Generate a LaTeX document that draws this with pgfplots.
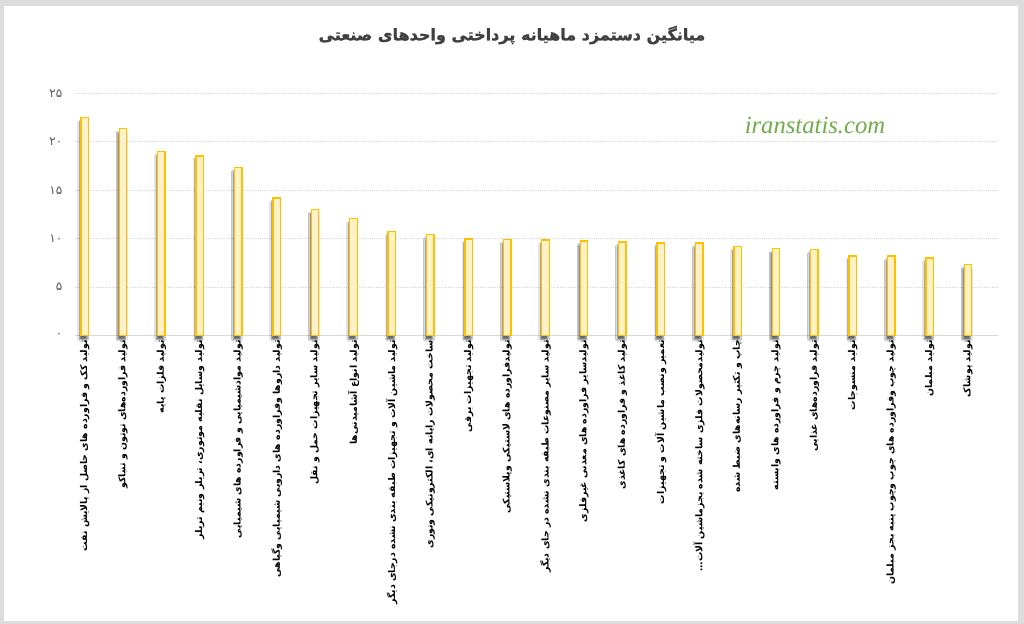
\documentclass[border=0pt]{standalone}
\usepackage{fontspec}
\usepackage{pgfplots}
\pgfplotsset{compat=1.18}
\usetikzlibrary{shadows.blur}
\setmainfont{DejaVu Sans}
\newfontfamily\arabicfont[Script=Arabic]{DejaVu Sans}
\newfontfamily\titlefont[Script=Arabic, FakeBold=1.5]{DejaVu Sans Bold}
\newfontfamily\wmfont{Liberation Serif}
\TeXXeTstate=1
\definecolor{framegray}{HTML}{DCDCDC}
\definecolor{gridgray}{HTML}{D9D9D9}
\definecolor{barline}{HTML}{FFC000}
\definecolor{barfill}{HTML}{FFF0C6}
\definecolor{titlegray}{HTML}{404040}
\definecolor{tickgray}{HTML}{595959}
\definecolor{wmgreen}{HTML}{70AD47}

\begin{document}
\begin{tikzpicture}
% page = 1024 x 624 px, 1px = 0.75pt
\path[use as bounding box, fill=framegray] (0,0) rectangle (768pt,468pt);
\fill[white] (3pt,2.25pt) rectangle (763.5pt,463.5pt);

\node[font=\titlefont\fontsize{12}{14}\selectfont, text=titlegray]
  at (384pt,441.75pt) {\beginR میانگین دستمزد ماهیانه پرداختی واحدهای صنعتی\endR};

\begin{axis}[
  at={(56.25pt,216.4pt)}, anchor=south west,
  scale only axis,
  width=692.25pt, height=181.5pt,
  ymin=0, ymax=25,
  xmin=-0.25, xmax=23.78,
  ytick={0,5,10,15,20,25},
  yticklabels={۰,۵,۱۰,۱۵,۲۰,۲۵},
  yticklabel style={font=\arabicfont\fontsize{9}{10}\selectfont, text=tickgray,
    xshift=-6pt},
  xtick={0,...,23},
  xticklabels={
    {\beginR تولید کک و فراورده های حاصل از پالایش نفت\endR},
    {\beginR تولید فراورده‌های توتون و تنباکو\endR},
    {\beginR تولید فلزات پایه\endR},
    {\beginR تولید وسایل نقلیه موتوری، تریلر ونیم تریلر\endR},
    {\beginR تولید موادشیمیایی و فراورده های شیمیایی\endR},
    {\beginR تولید داروها وفراورده های دارویی شیمیایی وگیاهی\endR},
    {\beginR تولید سایر تجهیزات حمل و نقل\endR},
    {\beginR تولید انواع آشامیدنی‌ها\endR},
    {\beginR تولید ماشین آلات و تجهیزات طبقه بندی نشده درجای دیگر\endR},
    {\beginR ساخت محصولات رایانه ای، الکترونیکی ونوری\endR},
    {\beginR تولید تجهیزات برقی\endR},
    {\beginR تولیدفراورده های لاستیکی وپلاستیکی\endR},
    {\beginR تولید سایر مصنوعات طبقه بندی نشده در جای دیگر\endR},
    {\beginR تولیدسایر فراورده های معدنی غیرفلزی\endR},
    {\beginR تولید کاغذ و فراورده های کاغذی\endR},
    {\beginR تعمیر ونصب ماشین آلات و تجهیزات\endR},
    {\beginR تولیدمحصولات فلزی ساخته شده بجزماشین آلات…\endR},
    {\beginR چاپ و تکثیر رسانه‌های ضبط شده\endR},
    {\beginR تولید چرم و فراورده های وابسته\endR},
    {\beginR تولید فراورده‌های غذایی\endR},
    {\beginR تولید منسوجات\endR},
    {\beginR تولید چوب وفراورده های چوب وچوب پنبه بجز مبلمان\endR},
    {\beginR تولید مبلمان\endR},
    {\beginR تولید پوشاک\endR}},
  xticklabel style={font=\arabicfont\bfseries\fontsize{7}{8}\selectfont,
    rotate=90, anchor=east, text=black},
  major tick length=0pt,
  ymajorgrids,
  grid style={densely dotted, gridgray, line width=0.6pt},
  axis x line*=bottom, axis y line*=left,
  y axis line style={draw=none},
  x axis line style={gridgray, line width=1.1pt},
  clip=false,
]
\addplot[ybar, bar width=5.6pt, fill=barfill, draw=barline, line width=1pt,
  blur shadow={shadow xshift=-1pt, shadow yshift=-3pt,
    shadow blur radius=1.2pt, shadow opacity=60}]
  coordinates {
  (0,22.5) (1,21.35) (2,19.0) (3,18.55) (4,17.35) (5,14.2)
  (6,13.0) (7,12.05) (8,10.75) (9,10.4) (10,9.95) (11,9.9)
  (12,9.85) (13,9.75) (14,9.65) (15,9.55) (16,9.55) (17,9.2)
  (18,8.95) (19,8.9) (20,8.2) (21,8.2) (22,8.0) (23,7.35)
};
\end{axis}

\node[font=\wmfont\itshape\fontsize{18.5}{20}\selectfont, text=wmgreen]
  at (611.25pt,373.5pt) {iranstatis.com};
\end{tikzpicture}
\end{document}
